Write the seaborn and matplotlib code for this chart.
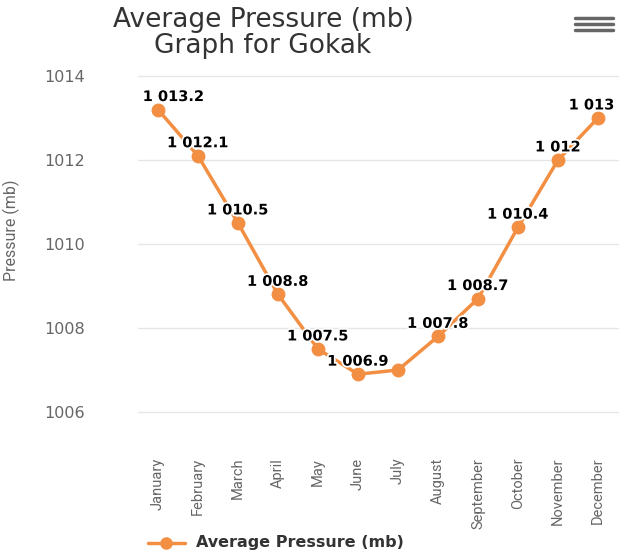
import matplotlib
matplotlib.use("Agg")
import matplotlib.pyplot as plt
import matplotlib.patheffects as pe
from matplotlib.lines import Line2D
import pandas as pd
import seaborn as sns

months = ["January", "February", "March", "April", "May", "June",
          "July", "August", "September", "October", "November", "December"]
pressure = [1013.2, 1012.1, 1010.5, 1008.8, 1007.5, 1006.9,
            1007.0, 1007.8, 1008.7, 1010.4, 1012.0, 1013.0]
hidden_labels = ["July"]  # overlapping label not drawn in the original
yticks = [1006, 1008, 1010, 1012, 1014]

series_name = "Average Pressure (mb)"
orange = "#f28f43"

sns.set_theme(style="white")
plt.rcParams['font.family'] = ['DejaVu Sans']
narrow = ["Roboto", "DejaVu Sans"]

df = pd.DataFrame({"month": months, "pressure": pressure})
df["x"] = range(len(months))

W, H = 619, 557
fig = plt.figure(figsize=(W / 100, H / 100), dpi=100)
ax = fig.add_axes([138 / W, 1 - 412 / H, 480 / W, 336 / H])

sns.lineplot(data=df, x="x", y="pressure", ax=ax, color=orange, linewidth=2.5,
             marker="o", markersize=10, markeredgewidth=0, label=series_name,
             legend=False)

ax.set_xlim(-0.5, len(months) - 0.5)
ax.set_ylim(yticks[0], yticks[-1])
ax.set_yticks(yticks)
ax.set_yticklabels([str(t) for t in yticks], color="#666666", fontsize=11.5)
ax.set_xticks(df["x"])
ax.set_xticklabels(months, rotation=90, color="#666666", fontsize=10.5,
                   family=narrow)
ax.tick_params(axis="y", pad=38, length=0)
ax.tick_params(axis="x", pad=33, length=0)
ax.grid(axis="y", color="#e6e6e6", linewidth=1)
ax.grid(axis="x", visible=False)
for gl in ax.get_ygridlines():
    gl.set_clip_on(False)
for s in ax.spines.values():
    s.set_visible(False)
ax.set_xlabel("")
ax.set_ylabel("Pressure (mb)", color="#666666", fontsize=11.5, family=narrow)
ax.yaxis.set_label_coords((20 - 138) / 480, (412 - 230) / 336)

# data labels
n = len(months)
for i, (m, v) in enumerate(zip(months, pressure)):
    if m in hidden_labels:
        continue
    txt = f"{v:,.1f}".replace(",", " ")
    if txt.endswith(".0"):
        txt = txt[:-2]
    ha, dx = "center", 0
    if i == 0:
        ha, dx = "left", -11
    elif i == n - 1:
        ha, dx = "right", 12
    ax.annotate(txt, (i, v), xytext=(dx, 4), textcoords="offset points",
                ha=ha, va="bottom", fontsize=10.5, fontweight="bold", color="black",
                path_effects=[pe.withStroke(linewidth=2.5, foreground="white")],
                annotation_clip=False)

fig.text(263 / W, 1 - 33 / H, "Average Pressure (mb)\nGraph for Gokak",
         ha="center", va="center", fontsize=19, color="#333333", linespacing=1.0)

# hamburger menu icon
for yy in (18, 24, 30):
    fig.add_artist(Line2D([575 / W, 613 / W], [1 - yy / H, 1 - yy / H],
                          color="#666666", linewidth=2.5))

# legend
fig.add_artist(Line2D([148 / W, 185 / W], [1 - 543 / H, 1 - 543 / H],
                      color=orange, linewidth=2.5))
fig.add_artist(Line2D([166.5 / W], [1 - 543 / H], color=orange, marker="o",
                      markersize=9, markeredgewidth=0))
fig.text(196 / W, 1 - 543 / H, series_name, ha="left", va="center",
         fontsize=11.5, fontweight="bold", color="#333333")

fig.savefig("out.png", dpi=100)
